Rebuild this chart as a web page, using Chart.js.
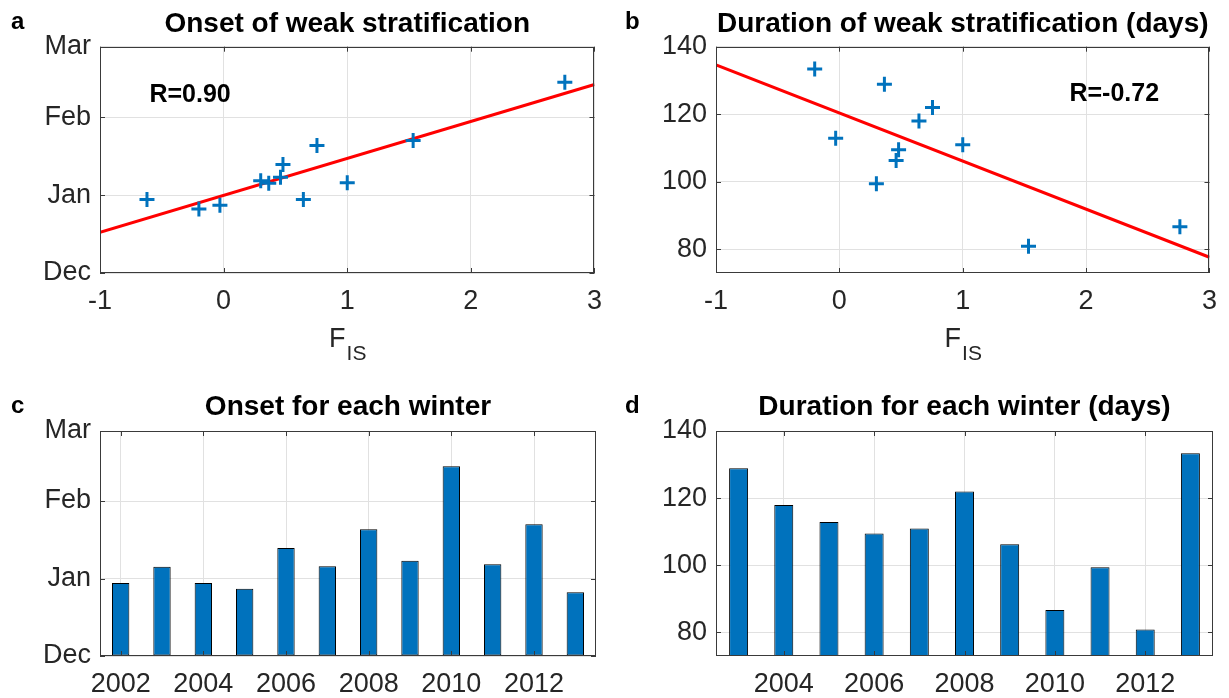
<!DOCTYPE html>
<html>
<head>
<meta charset="utf-8">
<script src="https://cdn.jsdelivr.net/npm/chart.js@4.4.1/dist/chart.umd.min.js"></script>
<style>
  html, body { margin: 0; padding: 0; background: #fff; }
  body { width: 1229px; height: 698px; position: relative; overflow: hidden; }
  canvas { position: absolute; }
</style>
</head>
<body>
<canvas id="chartA" width="614" height="372" style="left:0;top:0"></canvas>
<canvas id="chartB" width="615" height="372" style="left:614px;top:0"></canvas>
<canvas id="chartC" width="614" height="313" style="left:0;top:385px"></canvas>
<canvas id="chartD" width="615" height="313" style="left:614px;top:385px"></canvas>
<script>
// winters and the index F_IS for each
const years = [2002, 2003, 2004, 2005, 2006, 2007, 2008, 2009, 2010, 2011, 2012, 2013];
const fis = [-0.62, 0.365, 0.645, -0.03, 0.48, 1.0, 0.755, 0.46, 2.76, 0.30, 1.533, -0.2];
// onset in days after 1 December
const onsetDays = [29.2, 35.7, 29.2, 26.9, 43.2, 35.9, 50.7, 38.1, 75.9, 36.7, 52.7, 25.5];
// duration in days (no value for 2002)
const durationDays = [null, 128.9, 118.0, 112.9, 109.5, 111.0, 122.0, 106.3, 86.7, 99.4, 80.9, 133.4];

const monthTicks = [0, 31, 62, 90];
const monthLabels = ['Dec', 'Jan', 'Feb', 'Mar'];
const fisTicks = [-1, 0, 1, 2, 3];
const durationTicks = [80, 100, 120, 140];
const yearTicksC = [2002, 2004, 2006, 2008, 2010, 2012];
const yearTicksD = [2004, 2006, 2008, 2010, 2012];

const BLUE = '#0072BD';
const GRID = '#e1e1e1';
const AXIS = '#3a3a3a';
const FONT = '"Liberation Sans", Arial, Helvetica, sans-serif';

Chart.defaults.font.family = FONT;
Chart.defaults.color = '#262626';
Chart.defaults.animation = false;

// least squares line through the (x, y) pairs that have a value
function fitLine(xs, ys) {
  const pts = xs.map((x, i) => [x, ys[i]]).filter(p => p[1] != null);
  const n = pts.length;
  const mx = pts.reduce((s, p) => s + p[0], 0) / n;
  const my = pts.reduce((s, p) => s + p[1], 0) / n;
  let sxy = 0, sxx = 0;
  pts.forEach(p => { sxy += (p[0] - mx) * (p[1] - my); sxx += (p[0] - mx) ** 2; });
  const b = sxy / sxx;
  return x => my + b * (x - mx);
}

function pairs(xs, ys) {
  return xs.map((x, i) => ({ x: x, y: ys[i] })).filter(p => p.y != null);
}

// box, inward ticks, panel letter, R text and F_IS label
const matlabAxes = {
  id: 'matlabAxes',
  afterDatasetsDraw(chart, args, o) {
    const { ctx, chartArea: a, scales } = chart;
    ctx.save();
    ctx.strokeStyle = AXIS;
    ctx.lineWidth = 1;
    ctx.beginPath();
    scales.x.ticks.forEach(t => {
      const px = Math.round(scales.x.getPixelForValue(t.value)) + 0.5;
      ctx.moveTo(px, a.bottom); ctx.lineTo(px, a.bottom - 5);
      ctx.moveTo(px, a.top); ctx.lineTo(px, a.top + 5);
    });
    scales.y.ticks.forEach(t => {
      const py = Math.round(scales.y.getPixelForValue(t.value)) + 0.5;
      ctx.moveTo(a.left, py); ctx.lineTo(a.left + 5, py);
      ctx.moveTo(a.right, py); ctx.lineTo(a.right - 5, py);
    });
    ctx.stroke();
    ctx.strokeRect(Math.round(a.left) + 0.5, Math.round(a.top) + 0.5,
      Math.round(a.right - a.left) - 1, Math.round(a.bottom - a.top) - 1);

    ctx.fillStyle = '#000';
    ctx.textBaseline = 'alphabetic';
    ctx.textAlign = 'left';
    ctx.font = 'bold 24px ' + FONT;
    ctx.fillText(o.letter, o.letterX, o.letterY);

    if (o.rText) {
      ctx.font = 'bold 25px ' + FONT;
      ctx.fillText(o.rText, scales.x.getPixelForValue(o.rAt[0]), scales.y.getPixelForValue(o.rAt[1]));
    }
    if (o.xLabel) {
      ctx.fillStyle = '#262626';
      ctx.font = '27px ' + FONT;
      const wF = ctx.measureText('F').width;
      ctx.font = '21px ' + FONT;
      const wS = ctx.measureText('IS').width;
      const x0 = (a.left + a.right) / 2 - (wF + wS) / 2;
      ctx.font = '27px ' + FONT;
      ctx.fillText('F', x0, a.bottom + 74);
      ctx.font = '21px ' + FONT;
      ctx.fillText('IS', x0 + wF + 1, a.bottom + 87);
    }
    ctx.restore();
  }
};

function fixedY(width, ticks, labels) {
  return {
    afterFit: s => { s.width = width; },
    afterBuildTicks: s => { s.ticks = ticks.map(v => ({ value: v })); },
    grid: { color: GRID, drawTicks: false },
    border: { display: false },
    ticks: {
      padding: 9,
      font: { size: 27 },
      callback: v => labels ? labels[ticks.indexOf(v)] : String(v)
    }
  };
}

function fixedX(height, min, max, ticks) {
  return {
    type: 'linear',
    min: min,
    max: max,
    offset: false,
    afterFit: s => { s.height = height; },
    afterBuildTicks: s => { s.ticks = ticks.map(v => ({ value: v })); },
    grid: { color: GRID, drawTicks: false, offset: false },
    border: { display: false },
    ticks: { padding: 12, font: { size: 27 }, maxRotation: 0, callback: v => String(v) }
  };
}

function titleOpt(text, top, bottom) {
  return {
    display: true, text: text, fullSize: false, color: '#000',
    font: { size: 28, weight: 'bold' },
    padding: { top: top, bottom: bottom }
  };
}

function scatterPanel(id, ys, yScale, title, rText, rAt, letter, pad) {
  const line = fitLine(fis, ys);
  new Chart(document.getElementById(id), {
    type: 'scatter',
    data: {
      datasets: [
        {
          data: pairs(fis, ys),
          pointStyle: 'cross',
          pointRadius: 7.5,
          pointBorderWidth: 3,
          borderColor: BLUE,
          backgroundColor: BLUE
        },
        {
          type: 'line',
          data: [{ x: -1, y: line(-1) }, { x: 3, y: line(3) }],
          borderColor: '#ff0000',
          borderWidth: 3,
          pointRadius: 0
        }
      ]
    },
    options: {
      responsive: false,
      layout: { padding: { left: 0, right: pad, top: 0, bottom: 0 } },
      plugins: {
        legend: { display: false },
        tooltip: { enabled: false },
        title: titleOpt(title, 7.2, 5.9),
        matlabAxes: { letter: letter, letterX: 11, letterY: 29, rText: rText, rAt: rAt, xLabel: true }
      },
      scales: { x: fixedX(99, -1, 3, fisTicks), y: yScale }
    },
    plugins: [matlabAxes]
  });
}

function barPanel(id, xs, ys, base, yScale, xScale, title, letter, pad) {
  new Chart(document.getElementById(id), {
    type: 'bar',
    data: {
      datasets: [{
        data: pairs(xs, ys),
        backgroundColor: BLUE,
        borderColor: '#000',
        borderWidth: 1,
        borderSkipped: false,
        base: base,
        categoryPercentage: 1,
        barPercentage: 0.42
      }]
    },
    options: {
      responsive: false,
      layout: { padding: { left: 0, right: pad, top: 0, bottom: 0 } },
      plugins: {
        legend: { display: false },
        tooltip: { enabled: false },
        title: titleOpt(title, 5.7, 6.7),
        matlabAxes: { letter: letter, letterX: 11, letterY: 28 }
      },
      scales: { x: xScale, y: yScale }
    },
    plugins: [matlabAxes]
  });
}

const yMonth = () => Object.assign(fixedY(100, monthTicks, monthLabels), { min: 0, max: 90 });
const yDur = () => Object.assign(fixedY(102, durationTicks), { min: 73, max: 140 });

scatterPanel('chartA', onsetDays, yMonth(), 'Onset of weak stratification', 'R=0.90', [-0.6, 67.9], 'a', 18);
scatterPanel('chartB', durationDays, yDur(), 'Duration of weak stratification (days)', 'R=-0.72', [1.865, 123.8], 'b', 16);

const durYears = years.filter((y, i) => durationDays[i] != null);
const durVals = durationDays.filter(v => v != null);
barPanel('chartC', years, onsetDays, 0, yMonth(), fixedX(42, 2001.5, 2013.5, yearTicksC), 'Onset for each winter', 'c', 18);
barPanel('chartD', durYears, durVals, 73, yDur(), fixedX(42, 2002.5, 2013.5, yearTicksD), 'Duration for each winter (days)', 'd', 16);
</script>
</body>
</html>
